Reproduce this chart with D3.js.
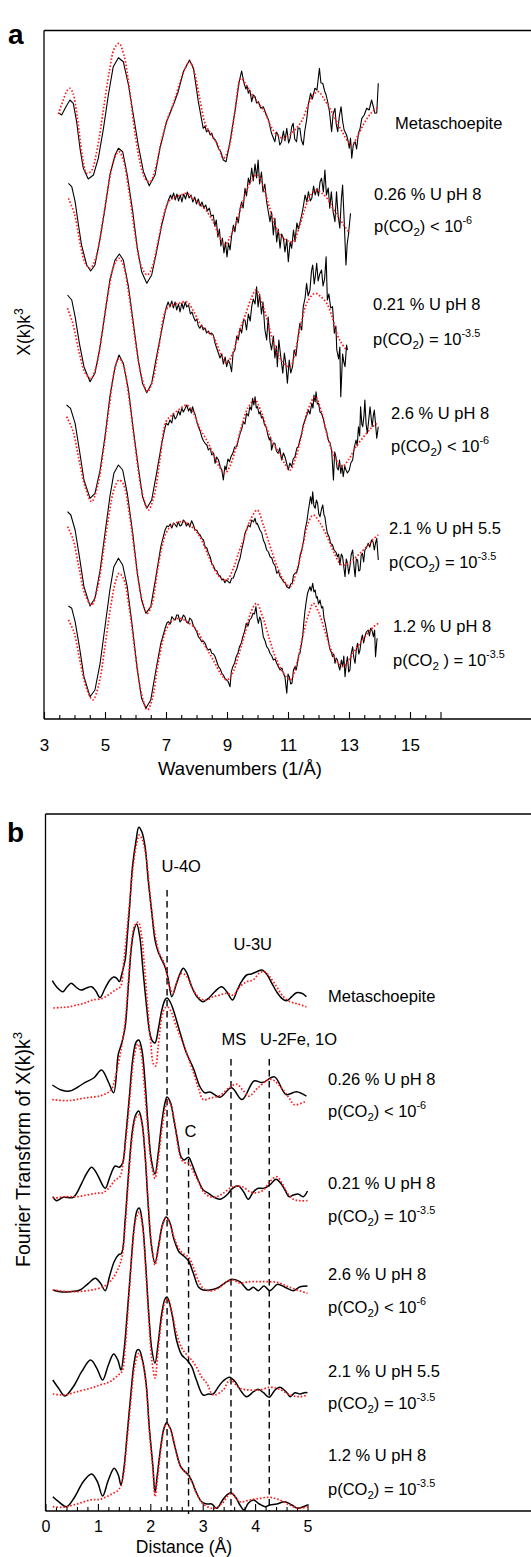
<!DOCTYPE html>
<html>
<head>
<meta charset="utf-8">
<script src="https://cdn.jsdelivr.net/npm/d3@7/dist/d3.min.js"></script>
<style>
  body { margin: 0; background: #fff; }
  text { font-family: "Liberation Sans", Arial, Helvetica, sans-serif; fill: #000; }
</style>
</head>
<body>
<svg id="chart" width="531" height="1557"></svg>
<script>

/*** DATA: panel a, chi(k)k^3 as [k, value] ***/

let chiMeta = [[3.50,0.57],[3.58,0.4],[3.72,1.23],[3.85,1.9],[3.96,1.57],[4.07,-0.27],[4.18,-2.93],[4.29,-4.93],[4.45,-6.0],[4.62,-5.6],[4.78,-3.93],[4.95,-0.93],[5.11,2.4],[5.27,5.23],[5.44,6.13],[5.60,5.73],[5.77,3.4],[5.93,0.4],[6.09,-2.6],[6.26,-5.27],[6.45,-6.67],[6.64,-5.6],[6.80,-2.93],[7.02,-0.27],[7.24,1.4],[7.40,2.73],[7.57,4.73],[7.77,5.9],[7.90,5.07],[8.06,1.73],[8.22,-0.93],[8.28,-0.7],[8.33,-1.3],[8.39,-1.1],[8.45,-1.6],[8.50,-1.4],[8.55,-1.93],[8.62,-2.1],[8.72,-2.93],[8.80,-3.3],[8.88,-4.1],[8.97,-4.27],[9.10,-2.27],[9.26,0.73],[9.40,3.73],[9.48,4.8],[9.56,3.57],[9.62,3.0],[9.66,3.3],[9.70,2.57],[9.75,2.9],[9.81,1.73],[9.86,2.4],[9.92,2.23],[9.97,1.6],[10.03,1.73],[10.10,1.1],[10.19,1.23],[10.28,0.5],[10.36,-0.1],[10.46,-1.43],[10.57,-2.27],[10.62,-1.3],[10.68,-1.6],[10.73,-2.6],[10.79,-2.27],[10.85,-1.2],[10.90,-2.2],[10.96,-0.93],[11.02,-2.4],[11.07,-1.93],[11.12,-0.8],[11.17,-0.43],[11.22,-2.0],[11.28,-2.27],[11.33,-0.9],[11.39,-0.93],[11.44,-2.1],[11.50,-2.6],[11.55,-1.2],[11.61,-0.1],[11.67,1.5],[11.74,2.57],[11.80,2.0],[11.88,3.07],[11.95,2.9],[12.03,5.07],[12.08,3.6],[12.14,3.57],[12.20,2.8],[12.25,2.4],[12.31,1.6],[12.36,0.73],[12.43,-1.27],[12.48,0.5],[12.54,1.07],[12.58,-0.5],[12.63,-1.27],[12.68,0.2],[12.74,1.23],[12.79,-0.2],[12.84,-1.1],[12.92,-1.6],[12.97,-2.2],[13.01,-2.93],[13.05,-1.9],[13.09,-3.93],[13.14,-2.6],[13.20,-2.27],[13.25,-3.0],[13.31,-1.43],[13.36,-1.0],[13.42,0.07],[13.50,0.4],[13.58,1.07],[13.66,0.9],[13.74,1.9],[13.80,1.2],[13.85,0.57],[13.91,0.6],[13.96,3.57]];
let fitMeta = [[3.47,0.5],[3.62,1.8],[3.75,2.8],[3.85,3.07],[3.95,2.6],[4.10,0.0],[4.25,-3.5],[4.40,-5.43],[4.55,-5.2],[4.75,-2.9],[4.95,1.0],[5.15,4.9],[5.30,7.0],[5.46,7.57],[5.62,6.4],[5.80,3.0],[6.00,-1.8],[6.20,-5.0],[6.35,-6.1],[6.48,-6.27],[6.65,-5.0],[6.85,-2.2],[7.05,0.0],[7.25,1.6],[7.45,3.6],[7.62,5.0],[7.77,5.73],[7.92,4.8],[8.10,2.1],[8.30,-0.6],[8.50,-1.6],[8.70,-2.6],[8.88,-3.93],[9.05,-3.0],[9.25,0.6],[9.46,4.07],[9.65,3.3],[9.85,2.3],[10.05,1.5],[10.25,0.6],[10.45,-0.8],[10.65,-1.6],[10.85,-1.93],[11.05,-1.6],[11.25,-1.0],[11.45,-0.2],[11.65,1.3],[11.85,2.5],[12.00,2.73],[12.20,1.9],[12.40,0.9],[12.60,-0.3],[12.80,-1.4],[12.95,-2.2],[13.09,-2.6],[13.30,-1.6],[13.50,-0.4],[13.70,0.5],[13.96,1.23]];

let chi026 = [[3.80,3.07],[3.91,2.73],[4.02,1.23],[4.13,-1.1],[4.23,-3.1],[4.40,-5.1],[4.53,-5.7],[4.67,-5.1],[4.84,-2.43],[5.00,0.57],[5.16,3.9],[5.33,5.9],[5.44,6.57],[5.58,6.23],[5.73,3.9],[5.91,0.23],[6.06,-3.43],[6.20,-5.77],[6.37,-6.93],[6.53,-6.1],[6.69,-3.77],[6.86,-1.1],[6.97,0.23],[7.08,1.4],[7.15,1.9],[7.19,1.5],[7.25,2.1],[7.30,1.4],[7.36,2.0],[7.41,1.3],[7.47,1.9],[7.52,1.2],[7.58,2.0],[7.64,1.5],[7.70,2.2],[7.76,1.6],[7.82,1.9],[7.88,1.2],[7.94,1.7],[8.00,1.0],[8.06,1.5],[8.12,0.8],[8.18,1.2],[8.24,0.6],[8.30,0.9],[8.36,0.3],[8.42,0.6],[8.48,-0.2],[8.55,-0.1],[8.60,-1.2],[8.65,-0.6],[8.70,-2.3],[8.75,-1.5],[8.80,-3.2],[8.85,-2.4],[8.90,-3.9],[8.95,-2.8],[9.00,-4.3],[9.05,-2.9],[9.10,-3.6],[9.15,-2.2],[9.21,-1.1],[9.26,-1.8],[9.32,-0.3],[9.37,-0.9],[9.43,0.57],[9.48,1.2],[9.53,0.6],[9.59,2.57],[9.64,1.8],[9.70,3.6],[9.75,3.0],[9.81,4.6],[9.86,3.3],[9.92,5.0],[9.97,3.6],[10.02,5.4],[10.07,3.0],[10.13,4.2],[10.18,2.2],[10.24,3.0],[10.30,1.23],[10.35,0.3],[10.41,-0.77],[10.46,0.2],[10.52,-2.1],[10.57,-0.43],[10.63,-2.8],[10.68,-1.5],[10.74,-3.43],[10.79,-2.0],[10.85,-2.43],[10.90,-3.8],[10.96,-2.5],[11.01,-4.77],[11.07,-2.8],[11.12,-3.43],[11.18,-1.6],[11.23,-2.77],[11.29,-0.9],[11.34,-1.5],[11.40,-0.77],[11.45,-0.1],[11.51,0.9],[11.56,1.9],[11.62,1.2],[11.67,2.23],[11.73,1.3],[11.78,1.57],[11.84,2.8],[11.89,1.9],[11.95,2.57],[12.00,1.8],[12.05,3.2],[12.10,3.57],[12.16,2.2],[12.21,4.4],[12.26,1.9],[12.32,2.6],[12.37,0.57],[12.42,2.23],[12.48,0.2],[12.54,-0.77],[12.59,2.23],[12.64,0.0],[12.70,-1.43],[12.75,1.5],[12.79,2.9],[12.84,-0.5],[12.90,-5.1],[12.94,-3.0],[12.98,-2.1],[13.05,0.07]];
let fit026 = [[3.80,1.57],[4.00,0.0],[4.20,-3.2],[4.35,-4.9],[4.51,-5.43],[4.70,-4.4],[4.90,-1.2],[5.10,2.6],[5.30,5.5],[5.46,6.23],[5.60,5.4],[5.80,2.0],[6.00,-2.3],[6.20,-5.3],[6.39,-6.1],[6.55,-5.3],[6.75,-2.6],[6.95,0.2],[7.10,1.3],[7.30,1.7],[7.50,1.9],[7.68,2.07],[7.90,1.5],[8.10,1.0],[8.30,0.4],[8.55,-0.77],[8.75,-2.3],[8.93,-3.1],[9.10,-2.3],[9.30,-0.9],[9.50,1.0],[9.70,2.8],[9.90,3.8],[10.00,3.9],[10.20,2.6],[10.40,0.6],[10.60,-1.3],[10.80,-2.3],[11.00,-2.7],[11.17,-2.77],[11.35,-1.5],[11.55,0.5],[11.75,1.9],[11.94,2.4],[12.10,2.1],[12.30,1.5],[12.50,0.4],[12.70,-0.5],[12.85,-1.2],[13.03,-1.93]];

let chi021 = [[3.77,2.9],[3.91,2.4],[4.02,0.73],[4.16,-1.93],[4.31,-4.27],[4.51,-5.77],[4.67,-4.93],[4.84,-2.27],[5.00,1.07],[5.16,4.4],[5.33,6.4],[5.47,7.0],[5.60,6.4],[5.77,3.73],[5.93,0.07],[6.09,-3.6],[6.23,-5.93],[6.37,-6.87],[6.53,-5.93],[6.69,-3.27],[6.86,-0.6],[7.00,1.57],[7.07,2.2],[7.13,1.7],[7.19,2.3],[7.24,1.6],[7.30,2.2],[7.35,1.4],[7.41,2.0],[7.46,1.2],[7.52,2.1],[7.57,1.5],[7.63,2.2],[7.68,1.7],[7.74,1.9],[7.80,1.0],[7.85,1.2],[7.90,0.73],[7.96,0.3],[8.01,0.5],[8.06,-0.2],[8.11,-0.43],[8.17,-0.1],[8.22,-0.6],[8.28,-0.4],[8.33,-0.9],[8.39,-0.7],[8.44,-1.0],[8.50,-0.9],[8.55,-1.1],[8.61,-1.93],[8.66,-2.4],[8.72,-2.93],[8.77,-3.4],[8.83,-3.0],[8.88,-4.0],[8.94,-3.3],[8.99,-4.27],[9.04,-3.6],[9.09,-3.9],[9.15,-4.77],[9.20,-2.9],[9.26,-2.6],[9.32,-1.2],[9.37,-1.6],[9.43,-0.4],[9.48,-0.9],[9.54,0.4],[9.59,0.4],[9.64,-0.6],[9.70,1.0],[9.76,0.3],[9.81,1.73],[9.86,2.5],[9.92,2.0],[9.97,3.73],[10.02,1.7],[10.07,3.0],[10.13,1.0],[10.18,2.2],[10.24,-0.5],[10.30,-1.6],[10.35,0.7],[10.41,-1.8],[10.46,-2.6],[10.52,-1.2],[10.57,-3.4],[10.62,-2.2],[10.65,-4.27],[10.70,-1.6],[10.76,-3.2],[10.83,-4.93],[10.88,-2.9],[10.93,-4.0],[10.98,-5.93],[11.04,-3.6],[11.09,-4.9],[11.15,-4.27],[11.20,-2.6],[11.26,-3.2],[11.32,-1.5],[11.39,0.07],[11.45,-0.6],[11.50,1.73],[11.56,2.6],[11.61,4.07],[11.66,2.8],[11.72,3.4],[11.77,5.3],[11.81,5.9],[11.86,4.0],[11.90,4.9],[11.94,6.07],[11.99,4.3],[12.04,5.0],[12.10,5.4],[12.15,3.8],[12.20,4.5],[12.25,6.73],[12.29,2.4],[12.34,3.0],[12.40,1.6],[12.46,1.73],[12.52,-0.93],[12.57,-0.2],[12.60,-2.6],[12.66,-3.5],[12.70,-2.3],[12.73,-7.27],[12.79,-3.0],[12.83,-3.8],[12.87,-4.27],[12.92,-2.1],[12.95,-2.6]];
let fit021 = [[3.77,1.57],[3.95,0.0],[4.15,-2.8],[4.35,-4.9],[4.53,-5.43],[4.70,-4.4],[4.90,-1.0],[5.10,3.0],[5.30,5.9],[5.46,6.57],[5.60,5.9],[5.80,2.6],[6.00,-1.8],[6.20,-5.3],[6.39,-6.77],[6.55,-5.8],[6.75,-2.6],[7.00,1.4],[7.20,1.9],[7.45,2.1],[7.68,2.23],[7.90,1.3],[8.11,0.07],[8.30,-0.6],[8.55,-1.27],[8.80,-3.0],[8.99,-3.93],[9.20,-2.8],[9.43,-0.5],[9.60,0.9],[9.80,2.6],[9.95,3.4],[10.10,2.5],[10.30,0.6],[10.50,-1.6],[10.70,-3.2],[10.90,-4.1],[11.07,-4.27],[11.25,-2.6],[11.43,0.07],[11.65,2.3],[11.89,3.07],[12.05,2.8],[12.27,2.07],[12.45,0.7],[12.60,-0.93],[12.75,-1.9],[12.92,-2.6]];

let chi26 = [[3.74,2.9],[3.87,2.57],[4.02,1.07],[4.16,-1.6],[4.31,-4.6],[4.51,-6.43],[4.67,-5.93],[4.84,-3.6],[5.00,-0.27],[5.16,3.73],[5.33,6.73],[5.46,7.9],[5.60,7.07],[5.77,4.4],[5.93,0.4],[6.09,-3.27],[6.23,-6.27],[6.37,-7.43],[6.53,-6.6],[6.69,-3.93],[6.86,-0.93],[7.00,1.07],[7.07,0.9],[7.13,1.4],[7.19,1.1],[7.24,2.07],[7.30,1.5],[7.35,1.73],[7.41,2.3],[7.46,1.9],[7.52,2.57],[7.57,2.2],[7.63,2.57],[7.68,2.9],[7.74,2.3],[7.79,2.6],[7.83,2.1],[7.87,2.73],[7.92,2.2],[7.96,1.9],[8.01,1.2],[8.06,0.73],[8.12,0.3],[8.17,-0.27],[8.23,-0.7],[8.28,-0.93],[8.34,-1.1],[8.39,-1.6],[8.45,-1.4],[8.50,-2.1],[8.56,-1.9],[8.61,-2.93],[8.66,-2.3],[8.72,-2.6],[8.78,-3.3],[8.83,-3.6],[8.88,-4.6],[8.93,-3.2],[8.97,-3.6],[9.03,-2.5],[9.08,-2.77],[9.14,-2.2],[9.19,-1.93],[9.25,-1.3],[9.32,-1.27],[9.37,-0.6],[9.43,0.07],[9.48,0.5],[9.54,1.23],[9.59,1.0],[9.64,2.07],[9.70,1.8],[9.75,2.73],[9.80,2.4],[9.84,3.57],[9.88,2.9],[9.92,3.73],[9.96,2.6],[10.00,2.73],[10.05,2.0],[10.09,2.23],[10.13,1.6],[10.17,1.73],[10.23,0.9],[10.28,0.73],[10.34,-0.1],[10.39,-0.6],[10.43,-0.3],[10.46,-1.6],[10.52,-0.9],[10.57,-0.93],[10.62,-1.7],[10.68,-1.93],[10.73,-1.4],[10.79,-2.6],[10.85,-1.9],[10.90,-2.27],[10.96,-3.0],[11.01,-3.6],[11.06,-2.9],[11.12,-3.27],[11.17,-2.5],[11.23,-2.27],[11.29,-1.4],[11.34,-1.27],[11.40,-0.5],[11.45,0.07],[11.50,0.9],[11.56,1.4],[11.62,1.9],[11.67,2.4],[11.72,2.0],[11.78,3.07],[11.82,2.6],[11.85,3.9],[11.89,3.2],[11.92,4.23],[11.96,3.0],[12.00,3.07],[12.05,2.2],[12.10,2.07],[12.16,1.5],[12.21,0.73],[12.27,0.2],[12.32,-0.6],[12.38,-0.9],[12.43,-1.6],[12.49,-4.6],[12.53,-1.8],[12.57,-2.27],[12.61,-3.4],[12.65,-3.6],[12.69,-2.6],[12.73,-3.93],[12.77,-3.1],[12.81,-4.27],[12.86,-3.2],[12.90,-3.6],[12.95,-3.9],[13.01,-3.6],[13.06,-2.9],[13.12,-2.6],[13.17,-1.4],[13.23,-0.6],[13.27,-1.2],[13.31,0.73],[13.35,-0.2],[13.38,2.73],[13.42,1.0],[13.45,0.73],[13.49,1.8],[13.52,3.4],[13.56,1.0],[13.60,0.07],[13.64,1.2],[13.69,2.73],[13.73,1.5],[13.76,0.73],[13.80,1.9],[13.83,2.4],[13.87,1.0],[13.91,-0.43],[13.96,0.73]];
let fit26 = [[3.74,1.73],[3.95,0.3],[4.15,-2.6],[4.35,-5.3],[4.56,-6.77],[4.75,-5.3],[4.95,-1.6],[5.15,3.0],[5.30,6.2],[5.46,7.57],[5.60,6.9],[5.80,3.3],[6.00,-1.5],[6.20,-5.6],[6.42,-7.6],[6.60,-6.3],[6.80,-2.6],[7.00,1.23],[7.20,1.9],[7.45,2.5],[7.68,2.9],[7.90,2.1],[8.10,0.6],[8.33,-0.6],[8.55,-2.0],[8.75,-3.3],[8.93,-3.93],[9.10,-3.2],[9.30,-1.3],[9.50,1.0],[9.70,2.7],[9.92,3.4],[10.10,2.4],[10.30,0.6],[10.50,-0.9],[10.70,-1.8],[10.90,-3.0],[11.07,-3.6],[11.25,-2.4],[11.45,0.0],[11.65,2.4],[11.89,3.73],[12.10,2.2],[12.30,-0.3],[12.50,-2.1],[12.76,-3.27],[13.00,-2.5],[13.20,-1.4],[13.45,-0.4],[13.70,0.5],[13.91,1.07]];

let chi21 = [[3.77,2.73],[3.88,2.4],[4.02,0.9],[4.16,-1.77],[4.31,-4.77],[4.51,-6.7],[4.67,-5.93],[4.84,-3.1],[5.00,0.57],[5.16,4.23],[5.29,6.57],[5.44,7.4],[5.58,6.9],[5.73,4.57],[5.91,0.57],[6.06,-3.43],[6.20,-6.1],[6.34,-7.43],[6.50,-6.77],[6.67,-3.77],[6.83,-0.77],[6.97,0.9],[7.03,1.3],[7.08,1.23],[7.14,1.5],[7.19,1.1],[7.25,1.6],[7.30,1.43],[7.35,1.2],[7.40,1.73],[7.46,1.3],[7.51,1.4],[7.57,1.9],[7.62,1.73],[7.67,1.3],[7.73,1.57],[7.78,1.2],[7.84,1.83],[7.90,1.4],[7.95,0.9],[8.01,0.9],[8.06,0.57],[8.12,0.4],[8.17,0.07],[8.23,-0.1],[8.28,-0.77],[8.34,-0.9],[8.39,-1.43],[8.45,-1.8],[8.50,-2.43],[8.56,-2.7],[8.61,-3.1],[8.67,-3.2],[8.72,-3.6],[8.78,-3.7],[8.83,-4.1],[8.88,-4.0],[8.93,-4.37],[8.99,-4.1],[9.04,-4.27],[9.10,-4.4],[9.15,-3.93],[9.21,-3.9],[9.26,-3.43],[9.32,-3.0],[9.37,-2.43],[9.43,-1.9],[9.48,-1.1],[9.54,-0.3],[9.59,0.57],[9.65,1.0],[9.70,1.4],[9.76,1.2],[9.81,1.9],[9.87,1.7],[9.92,2.07],[9.96,1.5],[9.99,1.57],[10.04,1.2],[10.08,0.9],[10.14,0.6],[10.19,-0.1],[10.25,-0.5],[10.30,-1.1],[10.36,-1.3],[10.41,-1.77],[10.47,-1.9],[10.52,-2.43],[10.58,-2.7],[10.63,-3.43],[10.69,-3.2],[10.74,-3.77],[10.80,-4.0],[10.85,-4.27],[10.91,-4.4],[10.96,-4.77],[11.04,-4.93],[11.09,-4.5],[11.14,-4.43],[11.18,-3.6],[11.23,-3.43],[11.29,-3.3],[11.34,-2.77],[11.40,-1.6],[11.45,-1.1],[11.51,-0.2],[11.56,0.9],[11.62,1.8],[11.67,2.9],[11.74,4.23],[11.78,3.5],[11.81,4.73],[11.85,3.3],[11.89,3.07],[11.93,3.9],[11.97,3.57],[12.01,2.5],[12.05,2.23],[12.10,3.0],[12.14,3.4],[12.18,2.4],[12.21,2.23],[12.25,1.3],[12.29,0.57],[12.35,0.2],[12.40,-0.43],[12.46,-0.6],[12.51,-1.1],[12.57,-1.3],[12.62,-1.77],[12.66,-1.5],[12.70,-2.6],[12.75,-1.5],[12.79,-1.77],[12.83,-2.8],[12.87,-3.77],[12.91,-2.0],[12.95,-2.43],[12.99,-3.5],[13.03,-2.77],[13.07,-1.6],[13.12,-1.1],[13.16,-2.6],[13.20,-3.77],[13.24,-2.0],[13.28,-2.1],[13.32,-3.2],[13.36,-3.1],[13.40,-1.6],[13.44,-1.43],[13.48,-2.3],[13.52,-1.1],[13.57,-0.9],[13.63,-0.43],[13.68,-0.8],[13.74,-0.1],[13.79,-0.3],[13.83,-1.1],[13.87,-0.4],[13.91,0.07],[13.96,-2.1]];
let fit21 = [[3.77,1.23],[3.95,0.0],[4.15,-2.9],[4.35,-5.6],[4.56,-6.6],[4.75,-5.0],[4.95,-1.2],[5.15,2.8],[5.30,5.0],[5.46,5.9],[5.60,5.5],[5.80,2.5],[6.00,-2.0],[6.20,-5.9],[6.39,-7.43],[6.55,-6.4],[6.75,-2.6],[7.00,0.57],[7.25,1.5],[7.57,1.73],[7.85,1.2],[8.11,0.23],[8.35,-1.4],[8.60,-3.1],[8.80,-3.9],[8.99,-4.1],[9.20,-3.0],[9.40,-1.2],[9.54,-0.1],[9.75,1.8],[9.99,2.9],[10.20,1.3],[10.40,-0.6],[10.60,-2.4],[10.85,-4.1],[11.07,-4.77],[11.30,-3.0],[11.50,-0.5],[11.65,1.5],[11.83,2.4],[12.05,1.6],[12.30,0.1],[12.50,-1.3],[12.76,-2.6],[13.00,-2.4],[13.20,-1.9],[13.36,-1.43],[13.60,-0.7],[13.80,0.0],[13.96,0.4]];

let chi12 = [[3.80,2.8],[3.91,2.57],[4.02,1.23],[4.16,-1.27],[4.31,-4.27],[4.51,-6.27],[4.67,-5.6],[4.84,-2.93],[5.00,0.73],[5.16,4.4],[5.29,6.73],[5.44,7.57],[5.58,6.9],[5.73,4.73],[5.91,0.4],[6.06,-3.6],[6.20,-6.43],[6.34,-7.43],[6.50,-6.6],[6.67,-3.6],[6.83,-0.93],[6.97,0.57],[7.03,1.1],[7.08,1.23],[7.14,1.0],[7.19,1.73],[7.25,1.5],[7.30,1.4],[7.35,1.9],[7.40,1.9],[7.46,1.2],[7.51,1.4],[7.57,1.9],[7.62,1.73],[7.67,1.2],[7.73,1.07],[7.78,1.6],[7.84,1.4],[7.90,0.8],[7.95,0.57],[8.01,0.2],[8.06,-0.27],[8.12,-0.5],[8.17,-0.77],[8.23,-0.7],[8.28,-0.93],[8.34,-1.4],[8.39,-1.6],[8.45,-1.5],[8.50,-1.93],[8.56,-2.0],[8.61,-2.27],[8.67,-2.8],[8.72,-3.27],[8.78,-3.5],[8.83,-3.93],[8.88,-4.1],[8.93,-4.43],[8.99,-4.6],[9.04,-4.77],[9.10,-5.27],[9.14,-3.8],[9.19,-3.27],[9.25,-2.9],[9.30,-2.27],[9.36,-1.9],[9.41,-1.27],[9.47,-0.9],[9.52,-0.27],[9.58,0.3],[9.63,1.07],[9.69,0.8],[9.74,1.4],[9.80,1.6],[9.85,2.07],[9.90,2.0],[9.95,2.73],[9.99,1.6],[10.03,1.07],[10.07,1.7],[10.11,1.4],[10.15,0.6],[10.19,-0.27],[10.25,-0.7],[10.30,-1.27],[10.36,-1.5],[10.41,-1.93],[10.47,-2.2],[10.52,-2.6],[10.58,-2.5],[10.63,-2.93],[10.69,-3.3],[10.74,-3.6],[10.80,-3.4],[10.85,-3.93],[10.90,-4.3],[10.96,-5.93],[11.00,-4.0],[11.04,-4.27],[11.09,-5.0],[11.13,-4.93],[11.18,-3.6],[11.23,-3.27],[11.27,-3.6],[11.31,-2.93],[11.35,-2.1],[11.39,-1.93],[11.44,-1.0],[11.48,-0.27],[11.52,1.2],[11.56,2.4],[11.60,3.3],[11.64,4.07],[11.68,4.4],[11.72,4.73],[11.76,4.3],[11.81,5.07],[11.85,4.2],[11.89,4.4],[11.93,3.6],[11.96,3.73],[12.00,3.0],[12.05,3.4],[12.10,2.6],[12.14,2.73],[12.18,1.6],[12.22,1.07],[12.26,0.4],[12.30,-0.27],[12.34,-1.0],[12.38,-1.6],[12.42,-1.8],[12.46,-2.27],[12.50,-2.0],[12.54,-2.93],[12.58,-2.4],[12.62,-2.6],[12.66,-3.2],[12.70,-3.6],[12.75,-2.6],[12.79,-3.27],[12.83,-2.2],[12.87,-4.27],[12.91,-3.0],[12.95,-2.27],[12.99,-3.8],[13.03,-3.6],[13.07,-2.0],[13.12,-1.27],[13.16,-2.4],[13.20,-2.93],[13.24,-1.5],[13.28,-0.93],[13.32,-2.0],[13.36,-1.6],[13.40,-0.6],[13.44,-0.1],[13.48,-0.9],[13.52,-0.27],[13.57,0.2],[13.63,0.4],[13.67,-0.2],[13.71,0.57],[13.76,0.3],[13.80,-0.27],[13.84,0.4],[13.87,-2.27],[13.92,-0.43]];
let fit12 = [[3.80,1.4],[3.98,0.2],[4.20,-3.0],[4.40,-5.5],[4.60,-6.6],[4.80,-5.0],[5.00,-1.2],[5.20,3.0],[5.35,5.3],[5.46,6.07],[5.60,5.6],[5.80,2.5],[6.00,-2.2],[6.20,-6.0],[6.39,-7.6],[6.55,-6.5],[6.75,-2.8],[7.00,0.4],[7.20,1.3],[7.46,1.57],[7.70,1.2],[8.00,0.4],[8.30,-1.3],[8.55,-2.6],[8.80,-4.0],[8.99,-4.6],[9.20,-3.8],[9.40,-1.9],[9.60,0.2],[9.80,2.3],[9.97,3.07],[10.15,1.9],[10.40,-0.6],[10.60,-2.4],[10.85,-3.9],[11.07,-4.6],[11.30,-2.8],[11.50,0.0],[11.70,2.2],[11.83,3.07],[12.00,2.2],[12.20,0.4],[12.40,-1.5],[12.60,-2.7],[12.81,-3.27],[13.00,-2.6],[13.20,-1.6],[13.36,-0.93],[13.60,0.0],[13.80,0.7],[13.96,1.07]];

/*** DATA: panel b, |FT| as [R, value] ***/

let ftMeta = [[0.13,2.34],[0.23,1.6],[0.33,1.22],[0.41,1.7],[0.49,2.07],[0.58,1.7],[0.68,1.39],[0.78,1.6],[0.88,1.73],[0.96,1.3],[1.04,0.64],[1.13,1.5],[1.23,2.4],[1.30,2.7],[1.36,2.57],[1.41,2.24],[1.46,3.08],[1.52,4.4],[1.56,6.73],[1.61,10.07],[1.66,13.73],[1.73,16.4],[1.78,17.67],[1.84,17.2],[1.90,15.73],[1.96,12.4],[2.03,9.07],[2.09,6.4],[2.15,5.23],[2.22,4.4],[2.28,3.73],[2.34,2.57],[2.41,0.73],[2.50,2.07],[2.57,3.07],[2.63,3.57],[2.70,3.07],[2.79,1.73],[2.89,0.73],[3.00,0.23],[3.11,0.57],[3.23,1.23],[3.36,1.73],[3.46,1.23],[3.57,0.4],[3.66,1.4],[3.74,2.23],[3.84,2.9],[3.93,3.0],[4.03,3.23],[4.13,3.4],[4.22,3.0],[4.32,2.07],[4.41,1.23],[4.51,0.57],[4.60,0.33],[4.70,0.73],[4.79,1.13],[4.89,1.07],[4.98,0.73]];
let ftMetaFit = [[0.15,-0.4],[0.30,-0.35],[0.43,-0.3],[0.60,-0.1],[0.75,0.1],[0.90,0.4],[1.07,0.54],[1.20,0.9],[1.33,1.4],[1.43,1.73],[1.49,4.07],[1.55,7.07],[1.61,10.4],[1.68,14.07],[1.74,16.07],[1.79,16.9],[1.85,16.4],[1.92,14.73],[1.98,11.73],[2.04,8.73],[2.11,6.4],[2.17,5.07],[2.24,4.4],[2.30,3.4],[2.37,1.73],[2.43,1.07],[2.50,2.07],[2.60,3.07],[2.70,2.73],[2.82,1.4],[2.95,0.57],[3.08,0.4],[3.20,0.73],[3.33,0.9],[3.46,1.07],[3.58,0.9],[3.71,1.73],[3.84,2.23],[3.96,2.4],[4.09,3.13],[4.18,3.23],[4.28,2.73],[4.41,1.73],[4.54,0.73],[4.67,0.23],[4.82,0.0],[4.98,-0.3]];

let ft026 = [[0.13,1.7],[0.30,1.2],[0.46,1.09],[0.62,1.5],[0.75,1.94],[0.92,2.4],[1.07,3.2],[1.20,2.0],[1.30,0.92],[1.39,4.8],[1.45,5.8],[1.52,7.5],[1.58,11.5],[1.64,15.5],[1.69,17.2],[1.74,17.8],[1.80,16.5],[1.86,13.2],[1.93,9.5],[1.99,6.9],[2.04,6.1],[2.09,5.9],[2.15,7.2],[2.22,9.2],[2.28,10.2],[2.32,10.4],[2.38,10.0],[2.44,9.2],[2.57,6.9],[2.69,4.9],[2.82,3.4],[2.95,1.5],[3.04,0.92],[3.14,0.99],[3.33,0.48],[3.55,1.43],[3.75,0.24],[3.98,2.1],[4.14,1.94],[4.37,2.51],[4.59,0.75],[4.79,1.02],[4.98,0.58]];
let ft026Fit = [[0.13,0.24],[0.43,0.14],[0.75,0.4],[1.07,0.66],[1.25,1.2],[1.33,2.44],[1.45,5.5],[1.52,8.0],[1.58,12.0],[1.64,15.8],[1.70,17.6],[1.77,18.0],[1.83,16.8],[1.89,13.5],[1.95,9.5],[2.01,5.8],[2.06,3.8],[2.10,3.6],[2.15,5.5],[2.22,8.5],[2.28,9.4],[2.33,9.5],[2.40,9.0],[2.50,7.5],[2.60,6.2],[2.70,4.8],[2.82,3.0],[2.93,1.2],[3.01,0.24],[3.15,0.4],[3.33,0.66],[3.50,1.4],[3.65,1.77],[3.78,1.1],[3.88,0.58],[4.05,1.4],[4.30,2.27],[4.50,1.43],[4.65,0.4],[4.75,-0.27],[4.98,0.1]];

let ft021 = [[0.14,0.53],[0.21,0.13],[0.34,0.47],[0.53,0.47],[0.69,1.87],[0.79,2.9],[0.88,3.47],[0.95,3.1],[1.01,2.53],[1.14,1.37],[1.23,2.53],[1.33,3.6],[1.41,3.47],[1.47,3.87],[1.53,6.5],[1.60,10.5],[1.67,14.5],[1.73,16.0],[1.78,16.2],[1.84,15.2],[1.90,12.0],[1.96,7.5],[2.02,4.2],[2.09,2.8],[2.15,4.8],[2.22,8.0],[2.28,9.9],[2.32,10.5],[2.39,9.87],[2.45,8.2],[2.52,6.2],[2.58,4.6],[2.64,4.2],[2.73,4.47],[2.79,3.87],[2.85,3.03],[2.94,1.87],[3.01,1.2],[3.11,0.87],[3.20,0.53],[3.33,0.27],[3.46,0.7],[3.57,1.37],[3.68,1.6],[3.78,1.03],[3.87,0.27],[3.97,1.03],[4.06,1.37],[4.17,1.37],[4.28,1.7],[4.40,2.27],[4.49,1.87],[4.57,1.2],[4.65,0.53],[4.73,0.7],[4.82,0.8],[4.92,0.53],[5.00,1.1]];
let ft021Fit = [[0.14,0.37],[0.40,0.53],[0.60,0.53],[0.79,0.7],[0.98,0.87],[1.10,0.93],[1.23,1.53],[1.33,2.2],[1.42,2.53],[1.48,3.87],[1.55,7.0],[1.62,11.0],[1.69,14.5],[1.76,15.8],[1.82,15.0],[1.88,12.0],[1.95,7.5],[2.02,3.8],[2.09,2.37],[2.15,4.2],[2.22,7.2],[2.29,9.53],[2.34,10.2],[2.40,9.53],[2.47,7.87],[2.53,5.53],[2.60,4.2],[2.68,3.87],[2.74,3.87],[2.82,3.03],[2.92,2.03],[3.01,1.03],[3.14,0.53],[3.27,0.53],[3.39,0.87],[3.52,1.37],[3.65,1.6],[3.78,1.47],[3.90,1.03],[4.03,0.93],[4.16,1.2],[4.28,2.03],[4.41,2.53],[4.50,2.03],[4.60,1.03],[4.73,0.27],[4.86,0.13],[5.00,0.13]];

let ft26 = [[0.14,0.5],[0.28,0.33],[0.47,0.33],[0.66,0.5],[0.82,1.17],[0.95,1.67],[1.05,1.17],[1.14,0.43],[1.22,1.83],[1.31,3.33],[1.39,4.0],[1.45,4.17],[1.52,7.5],[1.59,12.5],[1.66,16.5],[1.72,18.0],[1.78,18.4],[1.84,17.3],[1.90,14.0],[1.96,9.0],[2.02,5.0],[2.09,3.2],[2.16,5.0],[2.23,7.0],[2.30,7.8],[2.37,7.3],[2.45,5.6],[2.55,4.3],[2.64,3.9],[2.73,3.4],[2.82,2.2],[2.92,0.8],[3.01,0.5],[3.14,0.5],[3.27,0.67],[3.46,1.33],[3.55,1.57],[3.71,1.33],[3.87,0.5],[3.97,0.77],[4.06,0.43],[4.17,0.9],[4.28,0.43],[4.43,1.07],[4.57,0.77],[4.73,0.43],[4.86,0.83],[5.00,0.9]];
let ft26Fit = [[0.14,0.5],[0.47,0.33],[0.80,0.43],[1.10,0.83],[1.26,1.5],[1.39,2.67],[1.46,3.83],[1.52,6.8],[1.59,12.0],[1.66,16.0],[1.73,17.8],[1.79,18.0],[1.85,16.8],[1.91,13.5],[1.97,8.5],[2.03,4.8],[2.09,3.0],[2.16,4.8],[2.23,6.9],[2.30,7.7],[2.37,7.2],[2.45,5.8],[2.55,4.6],[2.64,4.1],[2.73,3.8],[2.82,2.8],[2.92,1.4],[3.01,0.67],[3.14,0.4],[3.30,0.67],[3.46,1.33],[3.58,1.5],[3.71,1.2],[3.90,1.33],[4.10,1.33],[4.28,1.33],[4.45,1.23],[4.60,0.9],[4.75,0.6],[5.00,0.17]];

let ft21 = [[0.14,1.8],[0.25,0.97],[0.37,0.2],[0.53,1.13],[0.69,2.63],[0.86,3.8],[0.98,2.97],[1.09,1.8],[1.20,3.3],[1.30,4.4],[1.38,3.8],[1.44,2.8],[1.50,4.8],[1.55,7.8],[1.62,12.5],[1.69,17.0],[1.75,18.8],[1.79,19.0],[1.85,17.5],[1.91,13.5],[1.97,8.5],[2.03,4.8],[2.09,3.47],[2.15,5.5],[2.22,8.5],[2.28,9.9],[2.32,10.1],[2.41,8.5],[2.50,5.8],[2.60,4.3],[2.70,3.8],[2.79,3.13],[2.88,1.8],[3.01,0.3],[3.11,0.4],[3.20,0.4],[3.30,1.13],[3.39,1.7],[3.51,2.07],[3.62,1.63],[3.74,0.63],[3.84,0.13],[3.97,0.63],[4.06,0.87],[4.16,0.53],[4.27,0.07],[4.38,0.8],[4.47,1.07],[4.59,0.63],[4.67,0.13],[4.76,0.53],[4.86,0.4],[4.94,0.53],[5.00,0.53]];
let ft21Fit = [[0.14,0.4],[0.37,0.3],[0.60,0.63],[0.85,0.97],[1.04,1.3],[1.23,1.63],[1.39,2.3],[1.46,2.63],[1.52,5.0],[1.59,10.0],[1.66,15.0],[1.73,18.0],[1.79,18.6],[1.85,17.2],[1.91,13.0],[1.97,8.0],[2.03,3.8],[2.09,2.0],[2.15,4.8],[2.22,8.0],[2.29,9.7],[2.34,9.9],[2.41,8.6],[2.50,6.5],[2.60,5.0],[2.70,4.3],[2.79,3.8],[2.88,3.1],[2.98,2.1],[3.08,1.47],[3.20,0.3],[3.39,0.8],[3.52,1.8],[3.71,0.97],[3.90,0.8],[4.09,0.8],[4.28,1.07],[4.47,0.87],[4.67,0.3],[4.86,0.13],[5.00,0.3]];

let ft12 = [[0.14,1.33],[0.25,0.83],[0.40,0.33],[0.56,1.33],[0.72,2.83],[0.88,3.6],[0.99,2.83],[1.09,1.4],[1.20,3.0],[1.31,4.17],[1.39,3.5],[1.44,2.5],[1.50,4.33],[1.56,7.67],[1.63,11.67],[1.69,14.67],[1.75,16.0],[1.79,16.0],[1.85,15.0],[1.92,12.67],[1.98,8.33],[2.05,4.33],[2.09,1.73],[2.13,3.33],[2.20,6.33],[2.26,8.17],[2.31,8.73],[2.38,8.17],[2.44,7.0],[2.50,5.67],[2.58,4.33],[2.66,3.83],[2.73,3.5],[2.81,2.67],[2.88,1.73],[2.98,0.83],[3.08,0.6],[3.17,0.6],[3.27,0.17],[3.38,1.0],[3.46,1.5],[3.54,1.73],[3.64,1.17],[3.71,0.5],[3.79,0.0],[3.87,0.67],[3.97,1.0],[4.08,0.6],[4.19,0.33],[4.28,0.5],[4.41,0.6],[4.57,0.83],[4.70,0.5],[4.81,0.17],[4.92,0.33],[5.00,0.5]];
let ft12Fit = [[0.14,0.33],[0.34,0.27],[0.60,0.6],[0.85,1.0],[1.04,1.07],[1.23,1.5],[1.39,2.0],[1.47,3.0],[1.55,6.67],[1.63,11.0],[1.70,14.33],[1.78,15.67],[1.85,14.83],[1.92,12.5],[1.98,8.0],[2.05,4.0],[2.09,1.33],[2.13,2.83],[2.20,6.0],[2.26,8.0],[2.31,8.6],[2.38,8.17],[2.44,7.0],[2.52,5.33],[2.60,4.17],[2.70,3.67],[2.79,2.83],[2.88,1.67],[3.01,0.6],[3.20,0.17],[3.36,0.6],[3.54,1.67],[3.71,0.83],[3.90,1.0],[4.09,1.17],[4.28,1.27],[4.47,1.0],[4.66,0.5],[4.82,0.17],[5.00,0.33]];

/*** DATA: stacking offsets, labels, ticks ***/

let offsetsA = [60, 50.5, 39.5, 28.5, 18, 8.5];
let offsetsB = [50.7, 40.9, 30.9, 21.6, 11.3, 0.1];

let sampleNames = ["Metaschoepite", "0.26 % U pH 8", "0.21 % U pH 8", "2.6 % U pH 8", "2.1 % U pH 5.5", "1.2 % U pH 8"];
let pco2Rel = [null, "<", "=", "<", "=", "="];
let pco2Exp = [null, "-6", "-3.5", "-6", "-3.5", "-3.5"];

let kTickLabels = [3, 5, 7, 9, 11, 13, 15];
let rTickLabels = [0, 1, 2, 3, 4, 5];

let shellNames = ["U-4O", "C", "MS", "U-2Fe, 1O"];
let shellR = [2.32, 2.73, 3.54, 4.27];
let shellTop = [62.1, 36.3, 45.2, 45.2];

/*********************/
/*** INIT VARIABLE ***/
/*********************/

let svg = d3.select("#chart");
let W = 531;

let xA = d3.scaleLinear().domain([3, 16]).range([44, 440.5]),
    yA = d3.scaleLinear().domain([0, 69]).range([719, 29]);
let xB = d3.scaleLinear().domain([0, 5]).range([45.5, 307.5]),
    yB = d3.scaleLinear().domain([0, 69.7]).range([1511, 814]);

let chiData = [chiMeta, chi026, chi021, chi26, chi21, chi12],
    chiFits = [fitMeta, fit026, fit021, fit26, fit21, fit12],
    ftData  = [ftMeta, ft026, ft021, ft26, ft21, ft12],
    ftFits  = [ftMetaFit, ft026Fit, ft021Fit, ft26Fit, ft21Fit, ft12Fit];

// text placement for sample labels (x, baseline of first line, baseline of second line)
let labelPosA = [[395, 129, null], [374, 200, 232], [373, 310, 345], [391, 419, 452], [389, 533.5, 568], [393, 631.5, 665.5]];
let labelPosB = [[328, 1002, null], [328, 1085, 1117], [328, 1189, 1222], [328, 1280, 1313], [328, 1376.5, 1409], [328, 1461, 1494.5]];

/********************************/
/*** DECLARE HELPER FUNCTIONS ***/
/********************************/

function draw_frame(x0, yTop, yBot) {
    let g = svg.append("g").attr("stroke", "#000").attr("stroke-width", 1.3);
    g.append("line").attr("x1", x0).attr("x2", W).attr("y1", yTop).attr("y2", yTop);
    g.append("line").attr("x1", x0).attr("x2", x0).attr("y1", yTop).attr("y2", yBot);
    g.append("line").attr("x1", x0).attr("x2", W).attr("y1", yBot).attr("y2", yBot);
}

function draw_ticks(x, yBot, minorVals, majorVals, labelVals, pad, fontSize) {
    let minor = d3.axisBottom(x).tickValues(minorVals).tickSize(-4).tickFormat("");
    let major = d3.axisBottom(x).tickValues(majorVals).tickSize(-7)
        .tickPadding(pad).tickFormat((d) => labelVals.includes(d) ? d : "");
    [minor, major].forEach((ax) => {
        let g = svg.append("g").attr("transform", "translate(0," + yBot + ")").call(ax);
        g.select(".domain").remove();
        g.selectAll("line").attr("stroke", "#000").attr("stroke-width", 1.1);
        g.selectAll("text").attr("font-size", fontSize).attr("font-family", null).attr("fill", "#000");
    });
}

function draw_spectra(x, y, offsets, data, fits, blackWidth, curve) {
    data.forEach((series, i) => {
        let line = d3.line().x((d) => x(d[0])).y((d) => y(offsets[i] + d[1])).curve(curve);
        svg.append("path").datum(series)
            .attr("fill", "none").attr("stroke", "#000")
            .attr("stroke-width", blackWidth).attr("stroke-linejoin", "round")
            .attr("d", line);
    });
    fits.forEach((series, i) => {
        let line = d3.line().x((d) => x(d[0])).y((d) => y(offsets[i] + d[1])).curve(d3.curveCatmullRom);
        svg.append("path").datum(series)
            .attr("fill", "none").attr("stroke", "#ff1a1a")
            .attr("stroke-width", 1.7).attr("stroke-dasharray", "1.6,1.9")
            .attr("d", line);
    });
}

function draw_labels(pos, fontSize, spacedParen) {
    sampleNames.forEach((name, i) => {
        svg.append("text").attr("x", pos[i][0]).attr("y", pos[i][1])
            .attr("font-size", fontSize).text(name);
        if (pco2Rel[i] === null) return;
        let t = svg.append("text").attr("x", pos[i][0]).attr("y", pos[i][2]).attr("font-size", fontSize);
        t.append("tspan").text("p(CO");
        t.append("tspan").attr("font-size", fontSize * 0.7).attr("dy", 4).text("2");
        t.append("tspan").attr("dy", -4).text((spacedParen && i === 5 ? " " : "") + ") " + pco2Rel[i] + " 10");
        t.append("tspan").attr("font-size", fontSize * 0.66).attr("dy", -8).text(pco2Exp[i]);
    });
}

/*********************************/
/*** DRAW PANEL A ***/
/*********************************/

draw_frame(44, 30.5, 719);
draw_ticks(xA, 719, d3.range(3.5, 16, 0.5).filter((d) => d % 2 !== 1), kTickLabels.concat([16]), kTickLabels, 20, 17);
draw_spectra(xA, yA, offsetsA, chiData, chiFits, 1.1, d3.curveLinear);
draw_labels(labelPosA, 16.5, true);

svg.append("text").attr("x", 8).attr("y", 44)
    .attr("font-size", 28).attr("font-weight", "bold").text("a");

svg.append("text").attr("text-anchor", "middle")
    .attr("transform", "translate(30,332) rotate(-90)")
    .attr("font-size", 17.5)
    .call((t) => { t.append("tspan").text("X(k)k"); t.append("tspan").attr("font-size", 12).attr("dy", -7).text("3"); });

svg.append("text").attr("x", 240).attr("y", 775).attr("text-anchor", "middle")
    .attr("font-size", 18.5).text("Wavenumbers (1/Å)");

/*********************************/
/*** DRAW PANEL B ***/
/*********************************/

draw_frame(45.5, 814, 1511);
draw_ticks(xB, 1511, d3.range(0.2, 5, 0.2).filter((d) => Math.abs(d - Math.round(d)) > 0.01), rTickLabels, rTickLabels, 10, 16);

// shell markers
shellR.forEach((r, i) => {
    svg.append("line")
        .attr("x1", xB(r)).attr("x2", xB(r))
        .attr("y1", yB(shellTop[i])).attr("y2", yB(0) + (i === 1 ? 3 : 0))
        .attr("stroke", "#000").attr("stroke-width", 1.4).attr("stroke-dasharray", "6.5,4.5");
});

draw_spectra(xB, yB, offsetsB, ftData, ftFits, 1.5, d3.curveCatmullRom);
draw_labels(labelPosB, 16.5, false);

let annot = [["U-4O", 161.5, 871.5], ["U-3U", 233.5, 949.5], ["MS", 221.5, 1044.5], ["U-2Fe, 1O", 260, 1044.5], ["C", 184.5, 1137]];
annot.forEach((a) => {
    svg.append("text").attr("x", a[1]).attr("y", a[2]).attr("font-size", 16.5).text(a[0]);
});

svg.append("text").attr("x", 7).attr("y", 842)
    .attr("font-size", 28).attr("font-weight", "bold").text("b");

svg.append("text").attr("text-anchor", "middle")
    .attr("transform", "translate(30,1149.5) rotate(-90)")
    .attr("font-size", 19.5)
    .call((t) => { t.append("tspan").text("Fourier Transform of X(k)k"); t.append("tspan").attr("font-size", 13).attr("dy", -8).text("3"); });

svg.append("text").attr("x", 184).attr("y", 1552.5).attr("text-anchor", "middle")
    .attr("font-size", 17.5).text("Distance (Å)");

</script>
</body>
</html>
